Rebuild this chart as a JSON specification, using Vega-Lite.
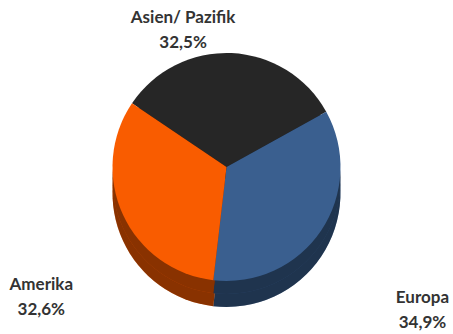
{
  "$schema": "https://vega.github.io/schema/vega-lite/v6.json",
  "width": 453,
  "height": 334,
  "autosize": {"type": "fit", "contains": "padding"},
  "background": "white",
  "config": {"view": {"stroke": null}},
  "data": {
    "values": [
      {"region": "Asien/ Pazifik", "share": 32.5, "order": 1, "label": "Asien/ Pazifik\n32,5%"},
      {"region": "Europa", "share": 34.9, "order": 2, "label": "Europa\n34,9%"},
      {"region": "Amerika", "share": 32.6, "order": 3, "label": "Amerika\n32,6%"}
    ]
  },
  "encoding": {
    "theta": {"field": "share", "type": "quantitative", "stack": true, "scale": {"range": [-0.977, 5.306]}},
    "order": {"field": "order", "type": "quantitative"},
    "color": {
      "field": "region",
      "type": "nominal",
      "legend": null,
      "scale": {"domain": ["Asien/ Pazifik", "Europa", "Amerika"], "range": ["#262626", "#3A5F8F", "#F95C00"]}
    }
  },
  "layer": [
    {"mark": {"type": "arc", "outerRadius": 114, "yOffset": 26}},
    {"mark": {"type": "arc", "outerRadius": 114, "yOffset": 26, "opacity": 0.45}, "encoding": {"color": {"value": "#000000"}}},
    {"mark": {"type": "arc", "outerRadius": 114, "yOffset": 13}},
    {"mark": {"type": "arc", "outerRadius": 114, "yOffset": 13, "opacity": 0.45}, "encoding": {"color": {"value": "#000000"}}},
    {"mark": {"type": "arc", "outerRadius": 114}},
    {
      "mark": {
        "type": "text",
        "radius": {"expr": "datum.order == 1 ? 150 : 195"},
        "dy": {"expr": "datum.order == 1 ? 1 : (datum.order == 2 ? 22 : 37)"},
        "dx": {"expr": "datum.order == 1 ? -50 : (datum.order == 2 ? 34 : -8)"},
        "lineBreak": "\n", "font": "Lato", "fontWeight": "bold", "fontSize": 17, "lineHeight": 25, "baseline": "middle"
      },
      "encoding": {
        "text": {"field": "label", "type": "nominal"},
        "color": {"value": "#333333"}
      }
    }
  ]
}
